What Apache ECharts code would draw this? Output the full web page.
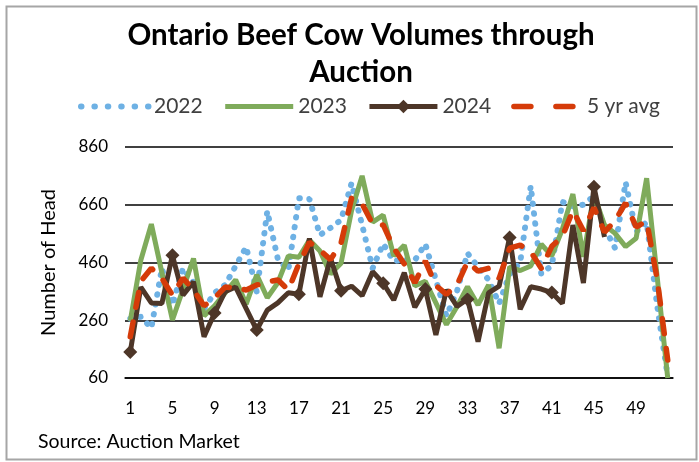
<!DOCTYPE html>
<html>
<head>
<meta charset="utf-8">
<script src="https://cdn.jsdelivr.net/npm/echarts@6/dist/echarts.min.js"></script>
<style>
html,body{margin:0;padding:0;background:#fff;}
#chart{width:699px;height:462px;}
</style>
</head>
<body>
<div id="chart"></div>
<script>
const weeks = Array.from({length: 52}, (_, i) => String(i + 1));
const y2022 = [265,272,233,440,313,440,390,300,355,382,448,514,358,638,472,434,683,680,555,580,607,735,590,440,525,465,470,468,524,400,275,360,492,445,400,318,420,460,725,420,450,670,655,660,690,580,510,738,566,600,310,65];
const y2023 = [258,468,593,425,261,367,474,275,310,355,400,316,417,338,390,483,478,538,500,420,457,640,760,600,624,483,520,379,395,320,245,307,376,313,382,163,445,432,448,523,483,575,697,480,695,590,561,515,544,752,410,60];
const y2024 = [150,375,320,318,485,347,393,203,285,359,375,300,226,295,320,355,350,543,341,475,362,378,345,428,388,330,425,305,368,209,365,308,333,186,355,378,547,298,376,368,356,318,590,389,722,548];
const avg5 = [203,395,440,405,347,406,365,310,337,375,372,365,382,392,400,365,455,530,503,470,527,683,663,593,590,510,455,390,465,380,350,382,462,430,440,405,510,520,497,440,516,550,640,570,650,565,605,666,583,603,402,122];
const yTicks = {min: 60, max: 860, step: 200};
const seriesNames = ['2022', '2023', '2024', '5 yr avg'];

const FONT = 'Lato';
const BLUE = '#6eb1e4', GREEN = '#7fab5b', BROWN = '#4d3628', RED = '#d53b09';
const chart = echarts.init(document.getElementById('chart'), null, {renderer: 'canvas'});
chart.setOption({
  animation: false,
  backgroundColor: '#fff',
  textStyle: {fontFamily: FONT},
  title: {
    text: 'Ontario Beef Cow Volumes through\nAuction',
    left: 356, top: 12, textAlign: 'center',
    textStyle: {fontFamily: FONT, fontSize: 29.5, fontWeight: 'bold', color: '#000', lineHeight: 37}
  },
  legend: {
    left: 73, top: 91,
    itemWidth: 68, itemHeight: 17, itemGap: 20,
    textStyle: {fontFamily: FONT, fontSize: 21, color: '#404040'},
    data: [
      {name: seriesNames[0], itemStyle: {opacity: 0}, lineStyle: {color: BLUE, width: 6, cap: 'round', type: [0.5, 12.9]}},
      {name: seriesNames[1], itemStyle: {opacity: 0}, lineStyle: {color: GREEN, width: 5}},
      {name: seriesNames[2], lineStyle: {color: BROWN, width: 5}},
      {name: seriesNames[3], itemStyle: {opacity: 0}, lineStyle: {color: RED, width: 5.5, cap: 'round', type: [17, 25]}}
    ]
  },
  grid: {left: 125, right: 26, top: 147, bottom: 84, containLabel: false},
  xAxis: {
    type: 'category', data: weeks, boundaryGap: true,
    axisLine: {show: true, lineStyle: {color: '#000', width: 1.5}},
    axisTick: {show: false},
    axisLabel: {interval: 3, margin: 22, fontFamily: FONT, fontSize: 17, color: '#000'}
  },
  yAxis: {
    type: 'value', min: yTicks.min, max: yTicks.max, interval: yTicks.step,
    name: 'Number of Head', nameLocation: 'middle', nameGap: 66, nameRotate: 90,
    nameTextStyle: {fontFamily: FONT, fontSize: 20, color: '#000'},
    axisLine: {show: false}, axisTick: {show: false},
    axisLabel: {margin: 17, fontFamily: FONT, fontSize: 17, color: '#000'},
    splitLine: {lineStyle: {color: '#000', width: 1.5}}
  },
  series: [
    {name: seriesNames[0], type: 'line', data: y2022, symbol: 'none',
     lineStyle: {color: BLUE, width: 6, type: [0.5, 9.5], cap: 'round'}, itemStyle: {color: BLUE}},
    {name: seriesNames[1], type: 'line', data: y2023, symbol: 'none',
     lineStyle: {color: GREEN, width: 5}, itemStyle: {color: GREEN}},
    {name: seriesNames[2], type: 'line', data: y2024, symbol: 'diamond', symbolSize: 14,
     lineStyle: {color: BROWN, width: 5}, itemStyle: {color: BROWN}},
    {name: seriesNames[3], type: 'line', data: avg5, symbol: 'none',
     lineStyle: {color: RED, width: 5.5, type: [15, 15], cap: 'round'}, itemStyle: {color: RED}}
  ],
  graphic: [
    {type: 'rect', left: 4, top: 4, shape: {width: 690, height: 453},
     style: {fill: 'none', stroke: '#a6a6a6', lineWidth: 2}, silent: true},
    {type: 'text', left: 38, top: 432,
     style: {text: 'Source: Auction Market', font: '19.5px ' + FONT, fill: '#000'}}
  ]
});
</script>
</body>
</html>
